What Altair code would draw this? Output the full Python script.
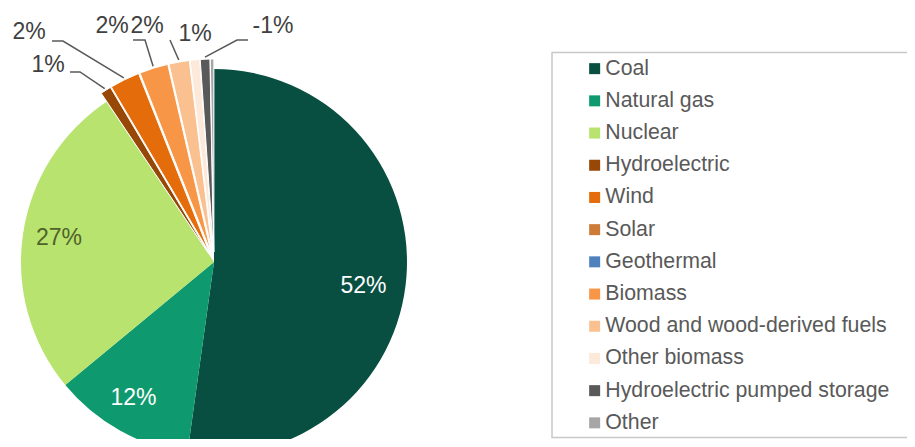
import math
import altair as alt
import pandas as pd

# ---------------- data ----------------
categories = [
    "Coal", "Natural gas", "Nuclear", "Hydroelectric", "Wind", "Solar",
    "Geothermal", "Biomass", "Wood and wood-derived fuels", "Other biomass",
    "Hydroelectric pumped storage", "Other",
]
shares = [52.2, 11.8, 26.6, 0.9, 2.5, 0.0, 0.0, 2.4, 1.7, 0.8, 0.8, 0.3]
label_pct = [52, 12, 27, 1, 2, None, None, 2, 2, 1, -1, None]
colors = [
    "#084f41", "#0e9a6e", "#b8e36e", "#974706", "#e46c0a", "#cc7b38",
    "#4f81bd", "#f79646", "#fac090", "#fde9d9", "#595959", "#a6a6a6",
]

# ---------------- layout ----------------
W, H = 899, 431
CX, CY = 206, 254
R = 193
EXPLODE = 10
exploded = {"Hydroelectric", "Wind", "Solar", "Geothermal", "Biomass",
            "Wood and wood-derived fuels", "Other biomass",
            "Hydroelectric pumped storage", "Other"}
label_pos = {
    "Coal": (355.5, 278), "Natural gas": (125.5, 389.5), "Nuclear": (51, 230),
    "Hydroelectric": (40, 57), "Wind": (21, 24), "Biomass": (104, 18),
    "Wood and wood-derived fuels": (139, 18), "Other biomass": (187, 26),
    "Hydroelectric pumped storage": (265, 18),
}
label_color = {"Coal": "#ffffff", "Natural gas": "#ffffff", "Nuclear": "#4f6228"}
leader_start = {
    "Hydroelectric": [(62, 64), (72, 64)],
    "Wind": [(44, 33), (55, 33)],
    "Biomass": [(125, 32), (137, 32)],
    "Wood and wood-derived fuels": [(162, 32)],
    "Hydroelectric pumped storage": [(240, 32), (229, 32)],
}

total = sum(shares)
rows, texts, lines = [], [], []
c = 0.0
for cat, v, p in zip(categories, shares, label_pct):
    c0, c1 = c, c + v
    c = c1
    mid = (c0 + c1) / 2 / total * 2 * math.pi
    e = EXPLODE if cat in exploded else 0
    cx = CX + e * math.sin(mid)
    cy = CY - e * math.cos(mid)
    if v > 0:
        rows.append({"category": cat, "c0": c0, "c1": c1, "cx": cx, "cy": cy,
                     "sw": 1.0 if cat in exploded else 0.0})
    if p is not None and cat in label_pos:
        x, y = label_pos[cat]
        texts.append({"text": f"{p}%", "x": x, "y": y,
                      "color": label_color.get(cat, "#404040")})
    if cat in leader_start:
        pts = leader_start[cat] + [(cx + (R + 2) * math.sin(mid),
                                    cy - (R + 2) * math.cos(mid))]
        for i, (x, y) in enumerate(pts):
            lines.append({"id": cat, "o": i, "x": x, "y": y})

arc_df = pd.DataFrame(rows)
text_df = pd.DataFrame(texts)
line_df = pd.DataFrame(lines)

pie = alt.Chart(arc_df).mark_arc(radius=R, stroke="#ffffff").encode(
    theta=alt.Theta("c0:Q", scale=alt.Scale(domain=[0, total], range=[0, 2 * math.pi])),
    theta2="c1:Q",
    x=alt.X("cx:Q", scale=None),
    y=alt.Y("cy:Q", scale=None),
    strokeWidth=alt.StrokeWidth("sw:Q", scale=None, legend=None),
    color=alt.Color(
        "category:N",
        scale=alt.Scale(domain=categories, range=colors),
        sort=categories,
        legend=alt.Legend(
            title=None, orient="none", legendX=576, legendY=50,
            symbolType="square", symbolSize=121, symbolStrokeWidth=0,
            labelFontSize=21.3, labelFont="Liberation Sans", labelColor="#595959",
            labelLimit=500, rowPadding=10.2, labelOffset=0, padding=0,
        ),
    ),
)

leaders = alt.Chart(line_df).mark_line(color="#595959", strokeWidth=1.5).encode(
    x=alt.X("x:Q", scale=None),
    y=alt.Y("y:Q", scale=None),
    detail="id:N",
    order="o:Q",
)

labels = alt.Chart(text_df).mark_text(
    font="Liberation Sans", fontSize=23, align="center", baseline="middle"
).encode(
    x=alt.X("x:Q", scale=None),
    y=alt.Y("y:Q", scale=None),
    text="text:N",
    color=alt.Color("color:N", scale=None),
)

box = alt.Chart(pd.DataFrame({"k": [0]})).mark_rect(
    fillOpacity=0, stroke="#c8c8c8", strokeWidth=1.5
).encode(x=alt.value(544), x2=alt.value(940), y=alt.value(44.5), y2=alt.value(429.5))

chart = alt.layer(pie, leaders, labels, box).properties(
    width=W, height=H, autosize=alt.AutoSizeParams(type="none"), padding=0
).configure_view(stroke=None)

chart.save("out.html", embed_options={"renderer": "svg", "actions": False})
